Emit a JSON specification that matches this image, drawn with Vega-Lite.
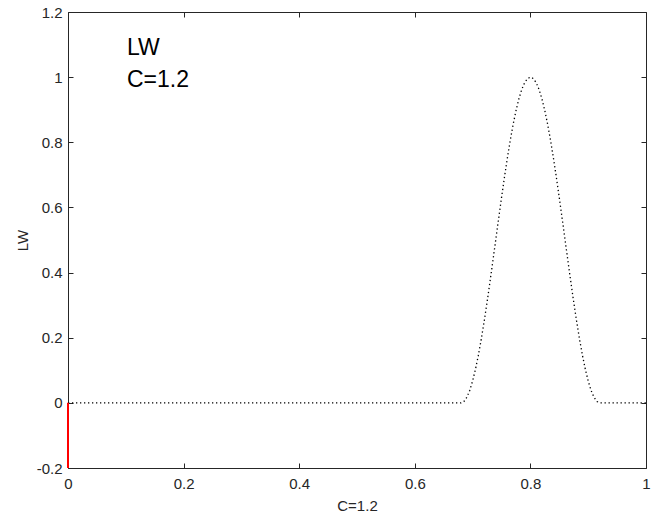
{
  "$schema": "https://vega.github.io/schema/vega-lite/v6.json",
  "width": 578,
  "height": 456,
  "autosize": {"type": "none"},
  "padding": {"left": 68, "top": 12, "right": 13, "bottom": 50},
  "background": "white",
  "config": {
    "view": {"stroke": null},
    "font": "Liberation Sans",
    "axis": {
      "domainColor": "#262626",
      "tickColor": "#262626",
      "labelColor": "#262626",
      "titleColor": "#262626",
      "labelFont": "Liberation Sans",
      "titleFont": "Liberation Sans",
      "labelFontSize": 15,
      "titleFontSize": 15,
      "titleFontWeight": "normal",
      "grid": false,
      "tickSize": -5,
      "domainWidth": 1,
      "tickWidth": 1,
      "labelExpr": "datum.value + ''"
    }
  },
  "datasets": {
    "curve": [
      {"x": 0, "y": 0}, {"x": 0.68, "y": 0},
      {"x": 0.685, "y": 0.00428}, {"x": 0.69, "y": 0.01704}, {"x": 0.695, "y": 0.03806},
      {"x": 0.7, "y": 0.06699}, {"x": 0.705, "y": 0.10332}, {"x": 0.71, "y": 0.14645},
      {"x": 0.715, "y": 0.19562}, {"x": 0.72, "y": 0.25}, {"x": 0.725, "y": 0.30866},
      {"x": 0.73, "y": 0.37059}, {"x": 0.735, "y": 0.43474}, {"x": 0.74, "y": 0.5},
      {"x": 0.745, "y": 0.56526}, {"x": 0.75, "y": 0.62941}, {"x": 0.755, "y": 0.69134},
      {"x": 0.76, "y": 0.75}, {"x": 0.765, "y": 0.80438}, {"x": 0.77, "y": 0.85355},
      {"x": 0.775, "y": 0.89668}, {"x": 0.78, "y": 0.93301}, {"x": 0.785, "y": 0.96194},
      {"x": 0.79, "y": 0.98296}, {"x": 0.795, "y": 0.99572}, {"x": 0.8, "y": 1},
      {"x": 0.805, "y": 0.99572}, {"x": 0.81, "y": 0.98296}, {"x": 0.815, "y": 0.96194},
      {"x": 0.82, "y": 0.93301}, {"x": 0.825, "y": 0.89668}, {"x": 0.83, "y": 0.85355},
      {"x": 0.835, "y": 0.80438}, {"x": 0.84, "y": 0.75}, {"x": 0.845, "y": 0.69134},
      {"x": 0.85, "y": 0.62941}, {"x": 0.855, "y": 0.56526}, {"x": 0.86, "y": 0.5},
      {"x": 0.865, "y": 0.43474}, {"x": 0.87, "y": 0.37059}, {"x": 0.875, "y": 0.30866},
      {"x": 0.88, "y": 0.25}, {"x": 0.885, "y": 0.19562}, {"x": 0.89, "y": 0.14645},
      {"x": 0.895, "y": 0.10332}, {"x": 0.9, "y": 0.06699}, {"x": 0.905, "y": 0.03806},
      {"x": 0.91, "y": 0.01704}, {"x": 0.915, "y": 0.00428}, {"x": 0.92, "y": 0},
      {"x": 1, "y": 0}
    ],
    "redline": [{"x": 0, "y": -0.2, "y2": 0}],
    "labels": [
      {"x": 0.102, "y": 1.068, "label": "LW"},
      {"x": 0.102, "y": 0.969, "label": "C=1.2"}
    ]
  },
  "layer": [
    {
      "data": {"name": "curve"},
      "mark": {"type": "line", "color": "black", "strokeWidth": 1.3, "strokeDash": [1.3, 2.7], "clip": true},
      "encoding": {
        "x": {"field": "x", "type": "quantitative", "scale": {"domain": [0, 1], "nice": false, "zero": false},
          "axis": {"orient": "bottom", "title": "C=1.2", "values": [0, 0.2, 0.4, 0.6, 0.8, 1], "labelPadding": 13, "labelFlush": false,
            "titleX": 289, "titleY": 37.5, "titleBaseline": "middle", "titleAnchor": null}},
        "y": {"field": "y", "type": "quantitative", "scale": {"domain": [-0.2, 1.2], "nice": false, "zero": false},
          "axis": {"orient": "left", "title": "LW", "values": [-0.2, 0, 0.2, 0.4, 0.6, 0.8, 1, 1.2], "labelPadding": 11, "labelFlush": false,
            "titleX": -46, "titleY": 228, "titleBaseline": "middle", "titleAngle": -90}}
      }
    },
    {
      "data": {"name": "redline"},
      "mark": {"type": "rule", "color": "#ff0000", "strokeWidth": 2},
      "encoding": {
        "x": {"field": "x", "type": "quantitative",
          "axis": {"orient": "top", "title": null, "labels": false, "values": [0, 0.2, 0.4, 0.6, 0.8, 1]}},
        "y": {"field": "y", "type": "quantitative",
          "axis": {"orient": "right", "title": null, "labels": false, "values": [-0.2, 0, 0.2, 0.4, 0.6, 0.8, 1, 1.2]}},
        "y2": {"field": "y2"}
      }
    },
    {
      "data": {"name": "labels"},
      "mark": {"type": "text", "align": "left", "baseline": "alphabetic", "fontSize": 23, "font": "Liberation Sans", "color": "black"},
      "encoding": {
        "x": {"field": "x", "type": "quantitative", "axis": null},
        "y": {"field": "y", "type": "quantitative", "axis": null},
        "text": {"field": "label"}
      }
    }
  ],
  "resolve": {"axis": {"x": "independent", "y": "independent"}}
}
